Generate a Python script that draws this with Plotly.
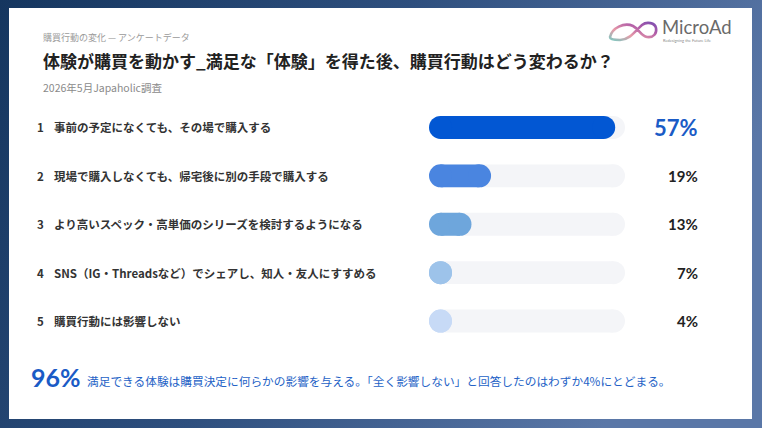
import base64
import plotly.graph_objects as go

W, H = 762, 428

# ---- data ----
ranks = ["1", "2", "3", "4", "5"]
categories = [
    "事前の予定になくても、その場で購入する",
    "現場で購入しなくても、帰宅後に別の手段で購入する",
    "より高いスペック・高単価のシリーズを検討するようになる",
    "SNS（IG・Threadsなど）でシェアし、知人・友人にすすめる",
    "購買行動には影響しない",
]
values = [57, 19, 13, 7, 4]
value_labels = ["57%", "19%", "13%", "7%", "4%"]
axis_max = 60
bar_colors = ["#0257d3", "#4a85e0", "#6ea6dc", "#9dc3ea", "#c7daf6"]
track_color = "#f4f5f8"

kicker = "購買行動の変化 — アンケートデータ"
title = "体験が購買を動かす_満足な「体験」を得た後、購買行動はどう変わるか？"
source = "2026年5月Japaholic調査"
summary_big = "96%"
summary_text = "満足できる体験は購買決定に何らかの影響を与える。「全く影響しない」と回答したのはわずか4%にとどまる。"

JP = "Noto Sans CJK JP"

def px(x):
    return x / W

def py(y):
    return 1 - y / H

# ---- background (gradient frame, white card, logo mark) ----
svg = f"""<svg xmlns='http://www.w3.org/2000/svg' width='{W}' height='{H}' viewBox='0 0 {W} {H}' preserveAspectRatio='none'>
<defs>
<linearGradient id='bg' x1='0' y1='0' x2='1' y2='0.3'>
<stop offset='0' stop-color='#15365f'/>
<stop offset='0.5' stop-color='#2e4f7e'/>
<stop offset='1' stop-color='#5a77a7'/>
</linearGradient>
<linearGradient id='lg' x1='0' y1='1' x2='1' y2='0'>
<stop offset='0' stop-color='#7fc8c0'/>
<stop offset='0.35' stop-color='#e89aa8'/>
<stop offset='0.7' stop-color='#b05ca8'/>
<stop offset='1' stop-color='#7d4fb0'/>
</linearGradient>
</defs>
<rect x='0' y='0' width='{W}' height='{H}' fill='url(#bg)'/>
<rect x='9' y='8' width='743' height='411' fill='#ffffff'/>
<path d='M610,37 C612,28 624,22 633,26 C639,29 641,36 647,37 C654,38 657,33 656,28 C655,23 647,21 642,25 C636,30 630,40 620,40 C614,40 610,39 610,37 Z'
 fill='none' stroke='url(#lg)' stroke-width='2.6' stroke-linecap='round'/>
</svg>"""
svg_uri = "data:image/svg+xml;base64," + base64.b64encode(svg.encode("utf-8")).decode()

# radius of the pill caps, expressed in axis units (bar thickness 23px over a 196px axis)
cap_x = 11.5 / (625 - 429) * axis_max
BW = 0.475
CAP_PX = 23

n = len(categories)
fig = go.Figure()

# track body + value body (square bodies between the two cap centres)
fig.add_trace(go.Bar(
    y=categories, x=[axis_max - 2 * cap_x] * n, base=cap_x, orientation="h",
    marker=dict(color=track_color, line=dict(width=0)),
    width=BW, hoverinfo="skip", showlegend=False,
))
fig.add_trace(go.Bar(
    y=categories, x=[max(v - 2 * cap_x, 0) for v in values], base=cap_x, orientation="h",
    marker=dict(color=bar_colors, line=dict(width=0)),
    width=BW, hoverinfo="skip", showlegend=False,
))
# right round cap of the track (the left one is always under the value cap)
fig.add_trace(go.Scatter(
    y=categories, x=[axis_max - cap_x] * n, mode="markers",
    marker=dict(color=track_color, size=CAP_PX, line=dict(width=0)),
    hoverinfo="skip", showlegend=False,
))
# round caps of the values
fig.add_trace(go.Scatter(
    y=categories + categories,
    x=[cap_x] * n + [max(v - cap_x, cap_x) for v in values], mode="markers",
    marker=dict(color=bar_colors + bar_colors, size=CAP_PX, line=dict(width=0)),
    hoverinfo="skip", showlegend=False,
))

annotations = []
for i, (r, c, lab) in enumerate(zip(ranks, categories, value_labels)):
    annotations.append(dict(
        x=px(35), y=c, xref="paper", yref="y", text=r, showarrow=False,
        xanchor="left", yanchor="middle",
        font=dict(family=JP, size=11.5, color="#333333", weight=700),
    ))
    annotations.append(dict(
        x=px(52), y=c, xref="paper", yref="y", text=c, showarrow=False,
        xanchor="left", yanchor="middle",
        font=dict(family=JP, size=11.5, color="#333333", weight=700),
    ))
    if i == 0:
        f = dict(family="Lato", size=22, color="#1a5bc6", weight=700)
    else:
        f = dict(family="Lato", size=15, color="#222222", weight=700)
    annotations.append(dict(
        x=px(700), y=c, xref="paper", yref="y", text=lab, showarrow=False,
        xanchor="right", yanchor="middle", font=f,
    ))

# header texts
annotations += [
    dict(x=px(41), y=py(37), xref="paper", yref="paper", text=kicker, showarrow=False,
         xanchor="left", yanchor="middle", font=dict(family=JP, size=9, color="#9a9a9a")),
    dict(x=px(41), y=py(60), xref="paper", yref="paper", text=title, showarrow=False,
         xanchor="left", yanchor="middle", font=dict(family=JP, size=17, color="#222222", weight=700)),
    dict(x=px(41), y=py(87), xref="paper", yref="paper", text=source, showarrow=False,
         xanchor="left", yanchor="middle", font=dict(family=JP, size=10.5, color="#8a8a8a")),
    # logo text
    dict(x=px(660), y=py(27), xref="paper", yref="paper", text="MicroAd", showarrow=False,
         xanchor="left", yanchor="middle",
         font=dict(family="Lato", size=18.5, color="#6a6a6a", weight=400)),
    dict(x=px(661), y=py(40), xref="paper", yref="paper", text="Redesigning the Future Life", showarrow=False,
         xanchor="left", yanchor="middle", font=dict(family="Lato", size=4, color="#888888")),
    # summary
    dict(x=px(29), y=py(377), xref="paper", yref="paper", text=summary_big, showarrow=False,
         xanchor="left", yanchor="middle", font=dict(family="Lato", size=25, color="#1a5bc6", weight=700)),
    dict(x=px(85), y=py(380), xref="paper", yref="paper", text=summary_text, showarrow=False,
         xanchor="left", yanchor="middle", font=dict(family=JP, size=11.7, color="#2462c6")),
]

fig.update_layout(
    width=W, height=H,
    margin=dict(l=0, r=0, t=0, b=0),
    paper_bgcolor="#2e4f7e", plot_bgcolor="rgba(0,0,0,0)",
    barmode="overlay",
    xaxis=dict(domain=[px(429), px(625)], range=[0, axis_max], visible=False, fixedrange=True),
    yaxis=dict(domain=[py(345.2), py(103.3)], categoryorder="array", categoryarray=categories,
               range=[n - 0.5, -0.5], visible=False, fixedrange=True),
    images=[dict(source=svg_uri, xref="paper", yref="paper", x=0, y=1, sizex=1, sizey=1,
                 xanchor="left", yanchor="top", sizing="stretch", layer="below")],
    annotations=annotations,
    showlegend=False,
)

fig.write_html("out.html", config={"displayModeBar": False},
               post_script="document.body.style.margin='0';document.body.style.overflow='hidden';")
